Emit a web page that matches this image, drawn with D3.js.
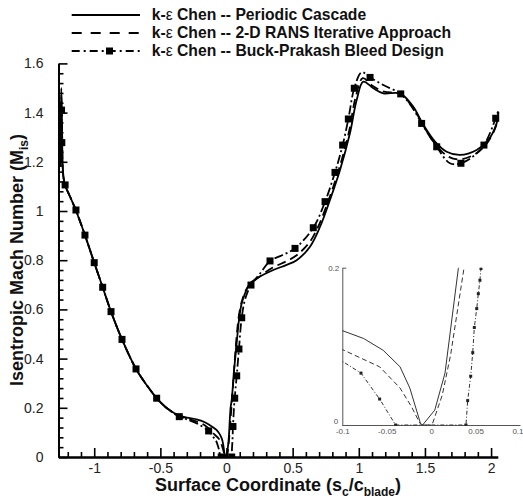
<!DOCTYPE html>
<html>
<head>
<meta charset="utf-8">
<script src="https://cdn.jsdelivr.net/npm/d3@7"></script>
<style>
  body { margin: 0; background: #fff; }
  svg { display: block; font-family: "Liberation Sans", Arial, sans-serif; }
</style>
</head>
<body>
<svg id="chart" width="523" height="499"></svg>
<script>
// ---- data: isentropic Mach number vs. normalized surface coordinate ----
const seriesNames = [
  "Periodic Cascade",
  "2-D RANS Iterative Approach",
  "Buck-Prakash Bleed Design"
];

const periodicCascade = [
  [-1.255, 1.18], [-1.249, 1.50], [-1.243, 1.33], [-1.236, 1.16], [-1.222, 1.108],
  [-1.18, 1.055], [-1.14, 1.004], [-1.07, 0.902], [-1.0, 0.79], [-0.936, 0.69],
  [-0.873, 0.591], [-0.79, 0.478], [-0.684, 0.358], [-0.60, 0.29], [-0.528, 0.239],
  [-0.45, 0.198], [-0.357, 0.168], [-0.30, 0.160], [-0.22, 0.152], [-0.16, 0.140],
  [-0.10, 0.120], [-0.076, 0.110], [-0.054, 0.095], [-0.035, 0.074], [-0.024, 0.047],
  [-0.012, 0.002], [-0.0096, 0], [0.0041, 0.019], [0.0156, 0.066], [0.0306, 0.199],
  [0.04, 0.235], [0.055, 0.34], [0.072, 0.435], [0.085, 0.51], [0.097, 0.57],
  [0.115, 0.625], [0.14, 0.665], [0.178, 0.706], [0.228, 0.726], [0.354, 0.76],
  [0.45, 0.78], [0.53, 0.80], [0.631, 0.855], [0.707, 0.936], [0.782, 1.045],
  [0.858, 1.167], [0.933, 1.316], [0.984, 1.451], [1.034, 1.526], [1.11, 1.499],
  [1.185, 1.478], [1.311, 1.478], [1.412, 1.424], [1.488, 1.35], [1.576, 1.282],
  [1.664, 1.241], [1.765, 1.228], [1.891, 1.248], [1.979, 1.289], [2.042, 1.357],
  [2.055, 1.404]
];

const rans2D = [
  [-1.255, 1.18], [-1.249, 1.47], [-1.243, 1.32], [-1.236, 1.16], [-1.222, 1.108],
  [-1.18, 1.055], [-1.14, 1.004], [-1.07, 0.902], [-1.0, 0.79], [-0.936, 0.69],
  [-0.873, 0.591], [-0.79, 0.478], [-0.684, 0.358], [-0.60, 0.29], [-0.528, 0.239],
  [-0.45, 0.198], [-0.357, 0.166], [-0.30, 0.156], [-0.22, 0.143], [-0.16, 0.127],
  [-0.10, 0.096], [-0.058, 0.074], [-0.035, 0.047], [-0.022, 0.023], [-0.0126, 0.002],
  [-0.0107, 0], [0.001, 0], [0.0125, 0.038], [0.0219, 0.089], [0.0369, 0.199],
  [0.048, 0.28], [0.062, 0.39], [0.078, 0.50], [0.095, 0.58], [0.12, 0.64],
  [0.16, 0.69], [0.23, 0.725], [0.35, 0.77], [0.45, 0.795], [0.53, 0.82],
  [0.63, 0.875], [0.70, 0.945], [0.775, 1.05], [0.85, 1.17], [0.925, 1.32],
  [0.975, 1.46], [1.03, 1.54], [1.10, 1.51], [1.19, 1.485], [1.31, 1.476],
  [1.41, 1.42], [1.485, 1.35], [1.58, 1.27], [1.68, 1.22], [1.77, 1.21],
  [1.89, 1.235], [1.975, 1.28], [2.04, 1.35], [2.055, 1.40]
];

const buckPrakash = [
  [-1.256, 1.20], [-1.250, 1.46], [-1.247, 1.41], [-1.245, 1.278], [-1.236, 1.15],
  [-1.22, 1.106], [-1.18, 1.055], [-1.138, 1.004], [-1.07, 0.902], [-1.0, 0.79],
  [-0.936, 0.69], [-0.873, 0.591], [-0.79, 0.478], [-0.684, 0.358], [-0.60, 0.29],
  [-0.528, 0.239], [-0.45, 0.198], [-0.357, 0.164], [-0.30, 0.153], [-0.22, 0.135],
  [-0.135, 0.106], [-0.10, 0.081], [-0.079, 0.066], [-0.058, 0.033], [-0.04, 0],
  [0.0392, 0], [0.0411, 0.031], [0.0445, 0.062], [0.0468, 0.092], [0.0486, 0.124],
  [0.0513, 0.148], [0.0531, 0.167], [0.0549, 0.184], [0.0561, 0.199], [0.062, 0.239],
  [0.077, 0.33], [0.094, 0.439], [0.115, 0.566], [0.14, 0.64], [0.185, 0.699],
  [0.26, 0.75], [0.329, 0.797], [0.42, 0.82], [0.518, 0.848], [0.656, 0.932],
  [0.745, 1.038], [0.82, 1.157], [0.878, 1.268], [0.921, 1.374], [0.966, 1.499],
  [1.022, 1.564], [1.085, 1.543], [1.185, 1.512], [1.317, 1.476], [1.40, 1.424],
  [1.475, 1.356], [1.589, 1.261], [1.689, 1.194], [1.772, 1.194], [1.86, 1.22],
  [1.946, 1.268], [2.035, 1.377], [2.055, 1.41]
];

// symbol positions along the Buck-Prakash curve (full view and close-up)
const buckPrakashSymbols = [
  [-1.247, 1.41], [-1.245, 1.278], [-1.22, 1.106], [-1.138, 1.004], [-1.07, 0.902],
  [-1.0, 0.79], [-0.936, 0.69], [-0.873, 0.591], [-0.79, 0.478], [-0.684, 0.358],
  [-0.528, 0.239], [-0.357, 0.164], [-0.135, 0.106], [-0.04, 0], [0.0392, 0],
  [0.0486, 0.124], [0.062, 0.239], [0.077, 0.33], [0.094, 0.439], [0.115, 0.566],
  [0.185, 0.699], [0.329, 0.797], [0.518, 0.848], [0.656, 0.932], [0.745, 1.038],
  [0.82, 1.157], [0.878, 1.268], [0.921, 1.374], [0.966, 1.499], [1.085, 1.543],
  [1.317, 1.476], [1.475, 1.356], [1.589, 1.261], [1.772, 1.194], [1.946, 1.268],
  [2.035, 1.377]
];
const insetSymbols = [
  [-0.079, 0.066], [-0.058, 0.033], [-0.04, 0], [0.0392, 0], [0.0411, 0.031],
  [0.0445, 0.062], [0.0468, 0.092], [0.0486, 0.124], [0.0513, 0.148], [0.0531, 0.167],
  [0.0549, 0.184], [0.0561, 0.199]
];

const xTicks = [-1, -0.5, 0, 0.5, 1, 1.5, 2];
const yTicks = [0, 0.2, 0.4, 0.6, 0.8, 1, 1.2, 1.4, 1.6];
const insetXTicks = [-0.1, -0.05, 0, 0.05, 0.1];
const insetYTicks = [0, 0.2];

// ---- layout ----
const svg = d3.select("#chart");
const x = d3.scaleLinear().domain([-1.27, 2.05]).range([58.5, 497.7]);
const y = d3.scaleLinear().domain([0, 1.6]).range([457, 63.4]);

const styles = [
  { dash: null },
  { dash: "9,5" },
  { dash: "9,3,2,3" }
];
const allSeries = [periodicCascade, rans2D, buckPrakash];

const fmt = d => String(d);
const minorX = d3.range(-12, 21).map(v => v / 10).filter(v => !xTicks.some(t => Math.abs(t - v) < 1e-9));
const minorY = d3.range(0, 41).map(v => v * 0.04).filter(v => !yTicks.some(t => Math.abs(t - v) < 1e-9));

// axes
function styleAxis(g, size) {
  g.select(".domain").attr("stroke", "#000").attr("stroke-width", 2);
  g.selectAll(".tick line").attr("stroke", "#000").attr("stroke-width", 1.6);
  g.selectAll(".tick text").attr("fill", "#222").style("font-size", size + "px")
    .style("font-family", "'Liberation Sans', Arial, sans-serif");
}

const gxMinor = svg.append("g").attr("transform", "translate(0,457)")
  .call(d3.axisBottom(x).tickValues(minorX).tickSize(-5).tickSizeOuter(0).tickFormat(""));
styleAxis(gxMinor, 14);
const gx = svg.append("g").attr("transform", "translate(0,457)")
  .call(d3.axisBottom(x).tickValues(xTicks).tickSize(-9).tickSizeOuter(0).tickPadding(6).tickFormat(fmt));
styleAxis(gx, 14);

const gyMinor = svg.append("g").attr("transform", "translate(58.5,0)")
  .call(d3.axisLeft(y).tickValues(minorY).tickSize(-5).tickSizeOuter(0).tickFormat(""));
styleAxis(gyMinor, 14);
const gy = svg.append("g").attr("transform", "translate(58.5,0)")
  .call(d3.axisLeft(y).tickValues(yTicks).tickSize(-9).tickSizeOuter(0).tickPadding(15).tickFormat(fmt));
styleAxis(gy, 14);

// axis titles
const xTitle = svg.append("text").attr("x", 278).attr("y", 491)
  .attr("text-anchor", "middle").style("font-size", "18px").style("font-weight", "bold")
  .attr("fill", "#111");
xTitle.append("tspan").text("Surface Coordinate (s");
xTitle.append("tspan").attr("dy", 5).style("font-size", "12px").text("c");
xTitle.append("tspan").attr("dy", -5).text("/c");
xTitle.append("tspan").attr("dy", 5).style("font-size", "12px").text("blade");
xTitle.append("tspan").attr("dy", -5).text(")");

const yTitle = svg.append("text").attr("transform", "translate(23,260) rotate(-90)")
  .attr("text-anchor", "middle").style("font-size", "18px").style("font-weight", "bold")
  .attr("fill", "#111");
yTitle.append("tspan").text("Isentropic Mach Number (M");
yTitle.append("tspan").attr("dy", 5).style("font-size", "12px").text("is");
yTitle.append("tspan").attr("dy", -5).text(")");

// curves
const lineMain = d3.line().x(d => x(d[0])).y(d => y(d[1])).curve(d3.curveCatmullRom.alpha(0.5));
svg.append("defs").append("clipPath").attr("id", "plotClip")
  .append("rect").attr("x", 58.5).attr("y", 55).attr("width", 445).attr("height", 403);

const plot = svg.append("g").attr("clip-path", "url(#plotClip)");
allSeries.forEach((s, i) => {
  plot.append("path").datum(s).attr("d", lineMain)
    .attr("fill", "none").attr("stroke", "#000").attr("stroke-width", 1.8)
    .attr("stroke-dasharray", styles[i].dash);
});
plot.selectAll("rect.sym").data(buckPrakashSymbols).join("rect").attr("class", "sym")
  .attr("x", d => x(d[0]) - 3.5).attr("y", d => y(d[1]) - 3.5)
  .attr("width", 7).attr("height", 7).attr("fill", "#000");

// legend
const legend = svg.append("g");
const legendY = [15, 33, 51];
seriesNames.forEach((name, i) => {
  legend.append("line").attr("x1", 71.7).attr("x2", 140)
    .attr("y1", legendY[i]).attr("y2", legendY[i])
    .attr("stroke", "#000").attr("stroke-width", 2)
    .attr("stroke-dasharray", i === 1 ? "10,9" : i === 2 ? "8,4,2,4" : null);
  const t = legend.append("text").attr("x", 151.7).attr("y", legendY[i] + 5)
    .style("font-size", "15.7px").style("font-weight", "bold").attr("fill", "#111");
  t.append("tspan").text("k-");
  t.append("tspan").style("font-weight", "normal").text("ε");
  t.append("tspan").text(" Chen -- " + name);
});
legend.append("rect").attr("x", 106).attr("y", legendY[2] - 3.5)
  .attr("width", 7).attr("height", 7).attr("fill", "#000");

// close-up of the stagnation region
const ix = d3.scaleLinear().domain([-0.1, 0.1]).range([342.3, 520]);
const iy = d3.scaleLinear().domain([0, 0.2]).range([425, 267.7]);
const inset = svg.append("g");
svg.select("defs").append("clipPath").attr("id", "insetClip")
  .append("rect").attr("x", 342.3).attr("y", 267.7).attr("width", 178).attr("height", 158);

const gix = inset.append("g").attr("transform", "translate(0,425)")
  .call(d3.axisBottom(ix).tickValues(insetXTicks).tickSize(0).tickSizeOuter(0).tickPadding(3).tickFormat(fmt));
const giy = inset.append("g").attr("transform", "translate(342.3,0)")
  .call(d3.axisLeft(iy).tickValues(insetYTicks).tickSize(-4).tickSizeOuter(0).tickPadding(3).tickFormat(fmt));
[gix, giy].forEach(g => {
  g.select(".domain").attr("stroke", "#555").attr("stroke-width", 1);
  g.selectAll(".tick line").attr("stroke", "#555").attr("stroke-width", 1);
  g.selectAll(".tick text").attr("fill", "#555").style("font-size", "8px");
});
// keep the corner and end labels clear of each other and of the frame
gix.selectAll(".tick text").filter(d => d === 0.1).attr("text-anchor", "end").attr("dx", 3);
giy.selectAll(".tick text").filter(d => d === 0).attr("dy", "-0.15em").attr("dx", -1);

const lineInset = d3.line().x(d => ix(d[0])).y(d => iy(d[1]));
const insetPlot = inset.append("g").attr("clip-path", "url(#insetClip)");
const insetDash = [null, "5,3", "4,2,1,2"];
allSeries.forEach((s, i) => {
  insetPlot.append("path").datum(s).attr("d", lineInset)
    .attr("fill", "none").attr("stroke", "#333").attr("stroke-width", 1)
    .attr("stroke-dasharray", insetDash[i]);
});
insetPlot.selectAll("rect.isym").data(insetSymbols).join("rect").attr("class", "isym")
  .attr("x", d => ix(d[0]) - 1.5).attr("y", d => iy(d[1]) - 1.5)
  .attr("width", 3).attr("height", 3).attr("fill", "#222");
</script>
</body>
</html>
